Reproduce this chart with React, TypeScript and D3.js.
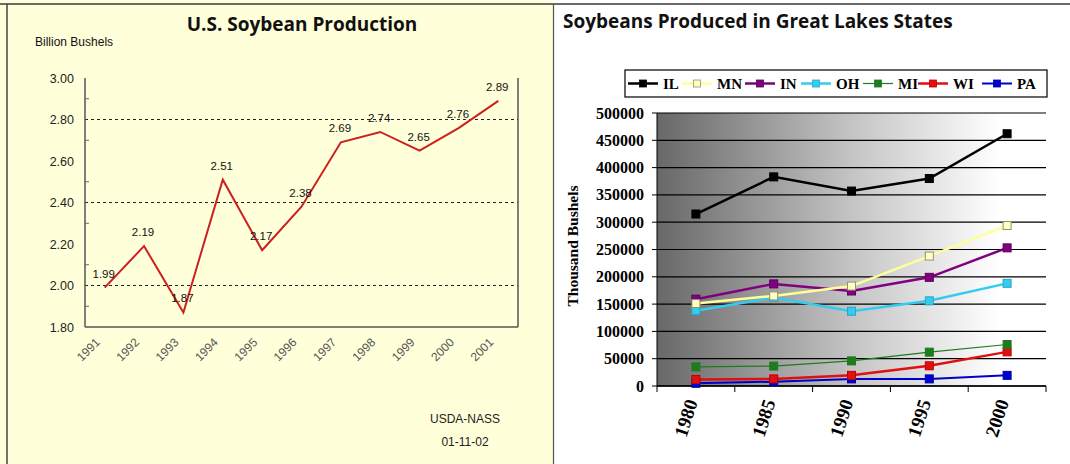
import React from "react";
import * as d3 from "d3";

// ---------- Left chart data ----------
const usYears = ["1991", "1992", "1993", "1994", "1995", "1996", "1997", "1998", "1999", "2000", "2001"];
const usValues = [1.99, 2.19, 1.87, 2.51, 2.17, 2.38, 2.69, 2.74, 2.65, 2.76, 2.89];
const usTicks = [1.8, 2.0, 2.2, 2.4, 2.6, 2.8, 3.0];
const usGrid = [2.0, 2.4, 2.8];
const usMinor = [1.9, 2.1, 2.3, 2.5, 2.7, 2.9];

// ---------- Right chart data ----------
const glYears = ["1980", "1985", "1990", "1995", "2000"];
const glStates = ["IL", "MN", "IN", "OH", "MI", "WI", "PA"];
const IL = [315000, 383000, 357000, 380000, 462000];
const MN = [151000, 165000, 183000, 238000, 294000];
const INd = [159000, 187000, 174000, 199000, 253000];
const OH = [138000, 162000, 137000, 156000, 188000];
const MI = [35000, 36500, 46000, 62000, 76000];
const WI = [12000, 13000, 19500, 37000, 62500];
const PA = [5000, 8000, 13000, 13000, 19500];
const glTicks = [0, 50000, 100000, 150000, 200000, 250000, 300000, 350000, 400000, 450000, 500000];

const seriesStyle: Record<string, { color: string; width: number; fill: string; stroke: string }> = {
  IL: { color: "#000000", width: 2.5, fill: "#000000", stroke: "#000000" },
  MN: { color: "#FFFF99", width: 2.5, fill: "#FFFFCC", stroke: "#9A8F60" },
  IN: { color: "#800080", width: 2.5, fill: "#800080", stroke: "#5a005a" },
  OH: { color: "#33CCEE", width: 2.5, fill: "#33CCEE", stroke: "#2aa8c8" },
  MI: { color: "#1E7B1E", width: 1.2, fill: "#1E7B1E", stroke: "#1E7B1E" },
  WI: { color: "#E01010", width: 2.5, fill: "#E01010", stroke: "#c00000" },
  PA: { color: "#0000CC", width: 2, fill: "#0000CC", stroke: "#0000AA" },
};
const glData: Record<string, number[]> = { IL, MN, IN: INd, OH, MI, WI, PA };
const legendStarts = [628, 682, 745, 801, 863, 918, 982];

export default function App() {
  // left scales
  const lx = d3.scalePoint<string>().domain(usYears).range([85, 518]).padding(0.5);
  const ly = d3.scaleLinear().domain([1.8, 3.0]).range([327, 78]);
  const lline = d3
    .line<number>()
    .x((_, i) => lx(usYears[i]) as number)
    .y((d) => ly(d));

  // right scales
  const rx = d3.scaleBand<string>().domain(glYears).range([657, 1046]);
  const ry = d3.scaleLinear().domain([0, 500000]).range([386, 113]);
  const rline = d3
    .line<number>()
    .x((_, i) => (rx(glYears[i]) as number) + rx.bandwidth() / 2)
    .y((d) => ry(d));

  const sans = "'Liberation Sans', Arial, sans-serif";
  const serif = "'Liberation Serif', 'Times New Roman', serif";
  const titleFont = "'Open Sans', 'Lato', sans-serif";

  return (
    <svg width={1070} height={464} style={{ position: "absolute", left: 0, top: 0 }}>
      <defs>
        <linearGradient id="plotGrad" x1="0" y1="0" x2="1" y2="0">
          <stop offset="0" stopColor="#686868" />
          <stop offset="0.5" stopColor="#c4c4c4" />
          <stop offset="0.88" stopColor="#ffffff" />
          <stop offset="1" stopColor="#ffffff" />
        </linearGradient>
      </defs>
      {/* backgrounds */}
      <rect x={0} y={0} width={1070} height={464} fill="#ffffff" />
      <rect x={0} y={0} width={553} height={464} fill="#FFFFDA" />
      <line x1={0} x2={1070} y1={4} y2={4} stroke="#6b6b6b" strokeWidth={2} />
      <line x1={7} x2={7} y1={4} y2={464} stroke="#444" strokeWidth={1.5} />
      <line x1={553.5} x2={553.5} y1={4} y2={464} stroke="#555" strokeWidth={1.2} />

      {/* ---------- Left chart ---------- */}
      <text x={302} y={31} textAnchor="middle" fontFamily={titleFont} fontWeight={700} fontSize={19} fill="#111">
        U.S. Soybean Production
      </text>
      <text x={35} y={46} fontFamily={sans} fontSize={12} fill="#111">
        Billion Bushels
      </text>
      {usGrid.map((g) => (
        <line key={g} x1={85} x2={518} y1={ly(g)} y2={ly(g)} stroke="#222" strokeDasharray="3,3" strokeWidth={1} />
      ))}
      <line x1={85} x2={85} y1={78} y2={327} stroke="#555" strokeWidth={1.5} />
      <line x1={518} x2={518} y1={78} y2={327} stroke="#555" strokeWidth={1.5} />
      <line x1={85} x2={518} y1={327} y2={327} stroke="#555" strokeWidth={1.5} />
      {usMinor.map((m) => (
        <line key={m} x1={85} x2={89} y1={ly(m)} y2={ly(m)} stroke="#666" strokeWidth={1} />
      ))}
      {usTicks.map((t) => (
        <text key={t} x={74} y={ly(t) + 4.5} textAnchor="end" fontFamily={sans} fontSize={12.5} fill="#222">
          {t.toFixed(2)}
        </text>
      ))}
      <path d={lline(usValues) || ""} fill="none" stroke="#CC2020" strokeWidth={2} />
      {usValues.map((v, i) => (
        <text
          key={i}
          x={(lx(usYears[i]) as number) - 1}
          y={ly(v) - 10}
          textAnchor="middle"
          fontFamily={sans}
          fontSize={11.5}
          fill="#111"
        >
          {v.toFixed(2)}
        </text>
      ))}
      {usYears.map((yr) => (
        <text
          key={yr}
          transform={`translate(${(lx(yr) as number) - 4},${343}) rotate(-45)`}
          textAnchor="end"
          fontFamily={sans}
          fontSize={12}
          fill="#555"
        >
          {yr}
        </text>
      ))}
      <text x={465} y={423} textAnchor="middle" fontFamily={sans} fontSize={12} fill="#222">
        USDA-NASS
      </text>
      <text x={465} y={446} textAnchor="middle" fontFamily={sans} fontSize={12} fill="#222">
        01-11-02
      </text>

      {/* ---------- Right chart ---------- */}
      <text x={563} y={28} fontFamily={titleFont} fontWeight={700} fontSize={19} fill="#111">
        Soybeans Produced in Great Lakes States
      </text>
      {/* legend */}
      <rect x={625} y={70} width={422} height={27} fill="#ffffff" stroke="#000" strokeWidth={1.2} />
      {glStates.map((s, i) => {
        const st = seriesStyle[s];
        const x = legendStarts[i];
        return (
          <g key={s}>
            <line x1={x} x2={x + 30} y1={83.5} y2={83.5} stroke={st.color} strokeWidth={st.width} />
            <rect x={x + 11.5} y={80} width={7} height={7} fill={st.fill} stroke={st.stroke} strokeWidth={0.8} />
            <text x={x + 35} y={89} fontFamily={serif} fontWeight={700} fontSize={15} fill="#000">
              {s}
            </text>
          </g>
        );
      })}
      {/* plot area */}
      <rect x={657} y={113} width={389} height={273} fill="url(#plotGrad)" />
      {glTicks.map((t) => (
        <g key={t}>
          <line x1={657} x2={1046} y1={ry(t)} y2={ry(t)} stroke="#000" strokeWidth={1.2} />
          <line x1={652} x2={657} y1={ry(t)} y2={ry(t)} stroke="#000" strokeWidth={1} />
          <text x={644} y={ry(t) + 5.5} textAnchor="end" fontFamily={serif} fontWeight={700} fontSize={16} fill="#000">
            {t}
          </text>
        </g>
      ))}
      <line x1={657} x2={657} y1={113} y2={386} stroke="#000" strokeWidth={1} />
      <line x1={657} x2={1046} y1={386} y2={386} stroke="#000" strokeWidth={1.5} />
      {[...glYears.map((y) => rx(y) as number), 1046].map((x, i) => (
        <line key={i} x1={x} x2={x} y1={386} y2={392} stroke="#000" strokeWidth={1} />
      ))}
      <text
        transform={`translate(578,246) rotate(-90)`}
        textAnchor="middle"
        fontFamily={serif}
        fontWeight={700}
        fontSize={15.5}
        fill="#000"
      >
        Thousand Bushels
      </text>
      {glStates
        .slice()
        .reverse()
        .map((s) => {
          const st = seriesStyle[s];
          return (
            <g key={s}>
              <path d={rline(glData[s]) || ""} fill="none" stroke={st.color} strokeWidth={st.width} />
              {glData[s].map((v, i) => (
                <rect
                  key={i}
                  x={(rx(glYears[i]) as number) + rx.bandwidth() / 2 - 4}
                  y={ry(v) - 4}
                  width={8}
                  height={8}
                  fill={st.fill}
                  stroke={st.stroke}
                  strokeWidth={1}
                />
              ))}
            </g>
          );
        })}
      {glYears.map((yr) => (
        <text
          key={yr}
          transform={`translate(${(rx(yr) as number) + rx.bandwidth() / 2 + 2},${402}) rotate(-72)`}
          textAnchor="end"
          fontFamily={serif}
          fontWeight={700}
          fontSize={19}
          fill="#000"
        >
          {yr}
        </text>
      ))}
    </svg>
  );
}
